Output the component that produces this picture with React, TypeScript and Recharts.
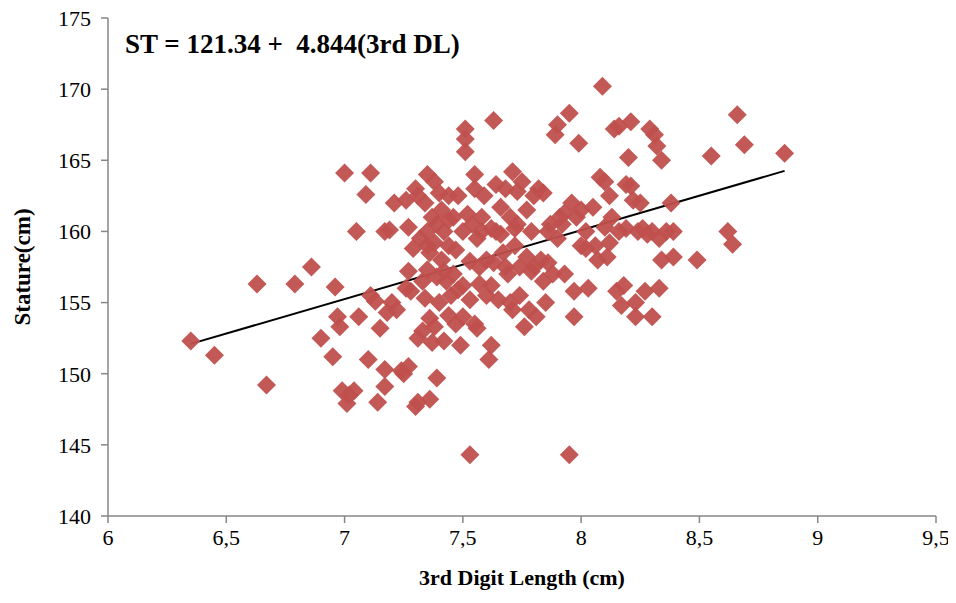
import React from 'react';
import { ScatterChart, Scatter, XAxis, YAxis, ReferenceLine, Label } from 'recharts';

const digitLength: number[] = [
  6.35, 6.45, 6.63, 6.67, 6.79, 6.86, 6.9, 6.95, 6.96, 6.97, 6.98, 6.99, 7.0, 7.01, 7.02, 7.04, 7.05, 7.06, 7.09, 7.11,
  7.11, 7.1, 7.13, 7.14, 7.15, 7.17, 7.17, 7.17, 7.19, 7.18, 7.21, 7.2, 7.22, 7.24, 7.25, 7.26, 7.26, 7.27, 7.27, 7.28,
  7.29, 7.3, 7.31, 7.3, 7.31, 7.31, 7.32, 7.33, 7.33, 7.34, 7.35, 7.35, 7.35, 7.36, 7.36, 7.37, 7.37, 7.38, 7.38, 7.38,
  7.39, 7.39, 7.4, 7.4, 7.41, 7.41, 7.42, 7.42, 7.43, 7.44, 7.44, 7.44, 7.45, 7.46, 7.46, 7.47, 7.48, 7.48, 7.49, 7.5,
  7.5, 7.5, 7.51, 7.51, 7.51, 7.52, 7.53, 7.53, 7.54, 7.55, 7.55, 7.55, 7.56, 7.56, 7.57, 7.58, 7.59, 7.6, 7.6, 7.61,
  7.62, 7.62, 7.63, 7.63, 7.64, 7.64, 7.65, 7.66, 7.67, 7.68, 7.68, 7.69, 7.7, 7.7, 7.71, 7.71, 7.72, 7.73, 7.73, 7.74,
  7.74, 7.75, 7.76, 7.77, 7.77, 7.78, 7.79, 7.8, 7.8, 7.81, 7.82, 7.83, 7.84, 7.84, 7.85, 7.86, 7.87, 7.88, 7.89, 7.9,
  7.9, 7.91, 7.92, 7.93, 7.95, 7.95, 7.96, 7.97, 7.97, 7.98, 7.99, 8.0, 8.0, 8.02, 8.03, 8.05, 8.06, 8.07, 8.08, 8.09,
  8.1, 8.1, 8.11, 8.12, 8.13, 8.14, 8.15, 8.16, 8.16, 8.17, 8.18, 8.19, 8.19, 8.2, 8.21, 8.21, 8.22, 8.23, 8.23, 8.24,
  8.25, 8.27, 8.28, 8.29, 8.3, 8.3, 8.31, 8.32, 8.33, 8.34, 8.34, 8.33, 8.36, 8.38, 8.39, 8.39, 8.49, 8.55, 8.62, 8.64,
  8.66, 8.69, 8.86,
  7.36, 7.42, 7.47, 7.39, 7.44, 7.58, 7.66, 7.72, 7.35, 7.53, 7.27, 7.62, 7.79, 7.86, 7.93, 8.02, 8.12, 8.26, 7.34, 7.57,
];

const stature: number[] = [
  152.3, 151.3, 156.3, 149.2, 156.3, 157.5, 152.5, 151.2, 156.1, 154.0, 153.3, 148.8, 164.1, 147.9, 148.5, 148.8, 160.0, 154.0, 162.6, 164.1,
  155.5, 151.0, 155.1, 148.0, 153.2, 149.1, 150.3, 160.0, 160.1, 154.3, 162.0, 155.0, 154.5, 150.2, 150.0, 162.2, 156.0, 160.3, 150.5, 155.8,
  158.8, 147.7, 148.0, 163.0, 162.5, 152.5, 159.5, 153.0, 156.5, 162.0, 164.0, 160.0, 157.3, 153.9, 148.2, 161.0, 152.2, 163.5, 159.2, 153.3,
  149.7, 160.5, 155.0, 162.7, 161.5, 158.0, 160.0, 152.3, 156.5, 162.5, 159.0, 154.1, 155.5, 161.0, 157.0, 153.5, 155.9, 162.5, 152.0, 160.0,
  156.2, 154.0, 167.2, 166.5, 165.6, 161.2, 144.3, 157.9, 160.5, 164.0, 163.0, 153.5, 159.5, 153.2, 157.5, 161.0, 162.5, 155.5, 158.0, 151.0,
  160.2, 152.0, 167.8, 157.8, 163.3, 160.0, 155.2, 161.7, 158.5, 163.0, 157.5, 157.0, 161.0, 155.0, 164.2, 154.5, 159.0, 162.8, 160.5, 155.5,
  157.5, 163.5, 153.3, 161.5, 158.2, 154.5, 160.0, 162.5, 157.5, 154.0, 163.0, 158.0, 162.7, 156.5, 155.0, 157.8, 160.5, 157.0, 166.8, 167.5,
  159.5, 161.0, 160.5, 161.3, 168.3, 144.3, 162.0, 155.8, 154.0, 161.0, 166.2, 159.0, 161.5, 160.0, 156.0, 161.7, 159.0, 158.0, 163.8, 170.2,
  163.5, 160.3, 158.2, 162.5, 161.0, 167.2, 155.8, 167.4, 160.0, 154.8, 156.2, 163.3, 160.2, 165.2, 167.7, 163.2, 162.2, 154.0, 155.0, 160.0,
  162.0, 155.8, 159.8, 167.2, 160.0, 154.0, 166.8, 166.0, 159.5, 165.0, 158.0, 156.0, 160.0, 162.0, 158.2, 160.0, 158.0, 165.3, 160.0, 159.1,
  168.2, 166.1, 165.5,
  158.5, 157.2, 158.7, 156.8, 160.8, 160.0, 159.8, 160.2, 159.0, 155.2, 157.2, 156.2, 157.2, 160.0, 157.0, 158.8, 159.2, 160.2, 155.3, 156.3,
];

const xTicks: number[] = [6, 6.5, 7, 7.5, 8, 8.5, 9, 9.5];
const yTicks: number[] = [140, 145, 150, 155, 160, 165, 170, 175];

const intercept = 121.34;
const slope = 4.844;
const fitRange: number[] = [6.35, 8.86];

const points = digitLength.map((x, i) => ({ x, y: stature[i] }));

const FONT = '"Liberation Serif", "Times New Roman", serif';
const MARKER = '#C0504D';
const AXIS = '#868686';

const Diamond = (props: any) => {
  const { cx, cy } = props;
  if (cx == null || cy == null) return null;
  const r = 9.5;
  return (
    <polygon
      points={`${cx},${cy - r} ${cx + r},${cy} ${cx},${cy + r} ${cx - r},${cy}`}
      fill={MARKER}
      fillOpacity={0.95}
    />
  );
};

const fmt = (v: number) => String(v).replace('.', ',');

export default function App() {
  return (
    <div style={{ position: 'relative', width: 948, height: 595 }}>
      <style>{'svg.recharts-surface{overflow:visible}'}</style>
      <ScatterChart
        width={948}
        height={595}
        margin={{ top: 10, right: 20, bottom: 18, left: 0 }}
      >
        <XAxis
          type="number"
          dataKey="x"
          domain={[6, 9.5]}
          ticks={xTicks}
          tickFormatter={fmt}
          interval={0}
          allowDataOverflow
          stroke={AXIS}
          strokeWidth={1.5}
          tickSize={7}
          tick={{ fill: '#000', fontSize: 22, fontFamily: FONT }}
          tickMargin={6}
          height={69}
        >
          <Label
            value="3rd Digit Length (cm)"
            position="insideBottom"
            offset={0}
            style={{ fill: '#000', fontSize: 22, fontWeight: 'bold', fontFamily: FONT }}
          />
        </XAxis>
        <YAxis
          type="number"
          dataKey="y"
          domain={[140, 175]}
          ticks={yTicks}
          interval={0}
          allowDataOverflow
          stroke={AXIS}
          strokeWidth={1.5}
          tickSize={7}
          tick={{ fill: '#000', fontSize: 22, fontFamily: FONT }}
          tickMargin={10}
          width={100}
        >
          <Label
            value="Stature(cm)"
            angle={-90}
            position="insideLeft"
            offset={14}
            style={{ fill: '#000', fontSize: 23, fontWeight: 'bold', fontFamily: FONT, textAnchor: 'middle' }}
          />
        </YAxis>
        <Scatter data={points} shape={Diamond} isAnimationActive={false} />
        <ReferenceLine
          segment={[
            { x: fitRange[0], y: intercept + slope * fitRange[0] },
            { x: fitRange[1], y: intercept + slope * fitRange[1] },
          ]}
          stroke="#000"
          strokeWidth={2}
          ifOverflow="visible"
        />
      </ScatterChart>
      <div
        style={{
          position: 'absolute',
          left: 117,
          top: 21,
          fontFamily: FONT,
          fontWeight: 'bold',
          fontSize: 27,
          whiteSpace: 'pre',
          color: '#000',
        }}
      >
        {'ST = 121.34 +  4.844(3rd DL)'}
      </div>
    </div>
  );
}
